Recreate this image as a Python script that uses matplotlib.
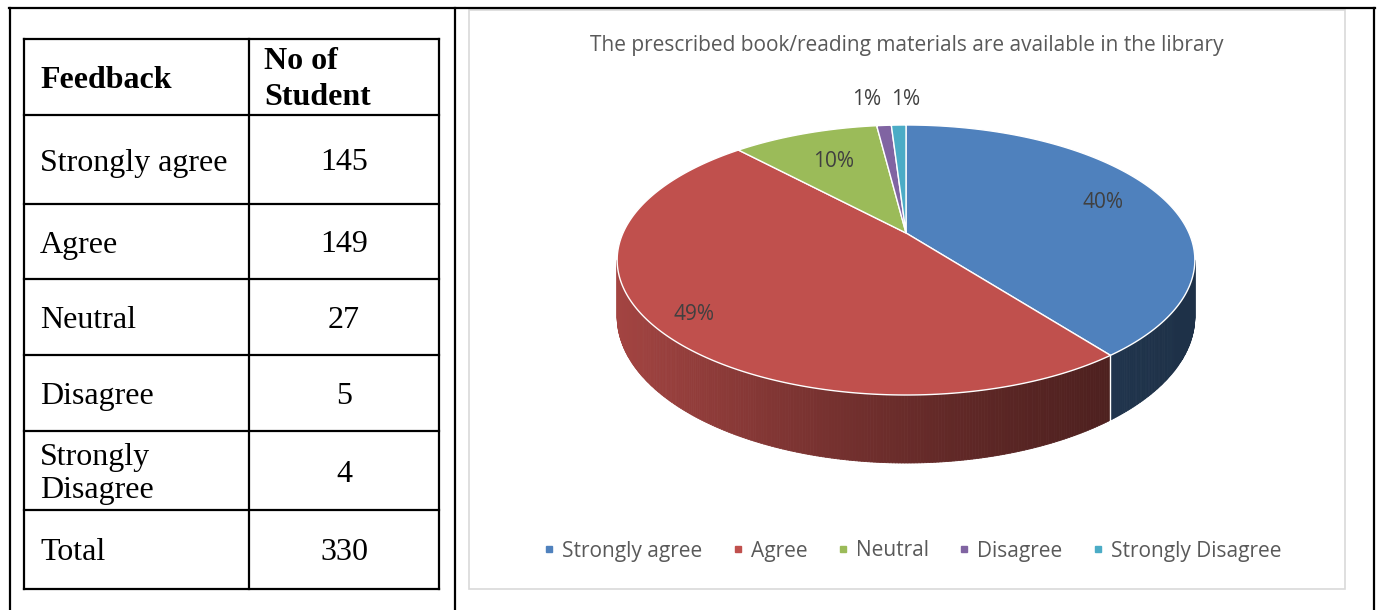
import numpy as np
import matplotlib.pyplot as plt
from matplotlib.collections import PolyCollection
from matplotlib.patches import Polygon, Rectangle
from matplotlib.lines import Line2D
import matplotlib.colors as mcolors

# table data
header = ['Feedback', 'No of\nStudent']
feedback = ['Strongly agree', 'Agree', 'Neutral', 'Disagree', 'Strongly\nDisagree']
students = [145, 149, 27, 5, 4]
total = 330

# chart data (percentages as printed on the pie)
pie_labels = ['Strongly agree', 'Agree', 'Neutral', 'Disagree', 'Strongly Disagree']
pie_pct = [40, 49, 10, 1, 1]
colors = ['#4F81BD', '#C0504D', '#9BBB59', '#8064A2', '#4BACC6']
title = 'The prescribed book/reading materials are available in the library'

fig = plt.figure(figsize=(13.81, 6.10), dpi=100)
ax = fig.add_axes([0, 0, 1, 1])
ax.set_xlim(0, 1381)
ax.set_ylim(610, 0)
ax.axis('off')

# --- outer layout table ---
ax.plot([9, 1375], [8, 8], color='black', lw=1.6)
for x in (10, 455, 1374):
    ax.plot([x, x], [8, 610], color='black', lw=1.6)

# --- inner data table ---
row_edges = [39, 115, 204, 279, 355, 431, 510, 589]
col_edges = [24, 249, 439]
for y in row_edges:
    ax.plot([col_edges[0], col_edges[-1]], [y, y], color='black', lw=1.6)
for x in col_edges:
    ax.plot([x, x], [row_edges[0], row_edges[-1]], color='black', lw=1.6)

serif = 'Liberation Serif'
fs = 23
rows = [tuple(header)] + list(zip(feedback, students)) + [('Total', total)]
for i, (name, val) in enumerate(rows):
    yc = (row_edges[i] + row_edges[i + 1]) / 2 + 3.5
    if i == 0:
        ax.text(40, yc, name, ha='left', va='center', fontsize=fs,
                family=serif, weight='bold')
        ax.text(264, yc - 1, val, ha='left', va='center', fontsize=fs,
                family=serif, weight='bold', linespacing=1.35)
    else:
        ax.text(40, yc, name, ha='left', va='center', fontsize=fs,
                family=serif, linespacing=1.22)
        ax.text((col_edges[1] + col_edges[2]) / 2, yc, str(val), ha='center',
                va='center', fontsize=fs, family=serif)

# --- chart area ---
ax.add_patch(Rectangle((469, 10), 876, 579, fill=False, edgecolor='#d9d9d9', lw=1.2))
sans = 'Open Sans'
ax.text(907, 45, title, ha='center', va='center', fontsize=15, family=sans, color='#595959')

# 3D pie with a little perspective: centre of disc projects to (cx, cy)
cx, cy = 906, 233
A, B, c, H = 283, 129.6, 0.2, 54.4
fracs = np.array(pie_pct) / sum(pie_pct)
bounds = np.concatenate([[0], np.cumsum(fracs)]) * 360


def pt(theta, r=1.0, h=0.0):
    t = np.radians(theta)
    den = 1 + c * r * np.cos(t)
    return cx + A * r * np.sin(t) / den, cy - (B * r * np.cos(t) - h) / den


def shade(u):
    return 0.38 + 0.47 * ((1 - u) / 2) ** 1.5


# side walls (visible front part)
vis_lo = np.degrees(np.arccos(-c))
vis_hi = 360 - vis_lo
quads, qcols = [], []
for i in range(len(pie_pct)):
    lo, hi = max(bounds[i], vis_lo), min(bounds[i + 1], vis_hi)
    if lo >= hi:
        continue
    th = np.linspace(lo, hi, int(hi - lo) * 2 + 2)
    base = np.array(mcolors.to_rgb(colors[i]))
    for t0, t1 in zip(th[:-1], th[1:]):
        x0, y0 = pt(t0)
        x1, y1 = pt(t1)
        x0b, y0b = pt(t0, h=H)
        x1b, y1b = pt(t1, h=H)
        quads.append([(x0, y0), (x1, y1), (x1b, y1b), (x0b, y0b)])
        u = (0.5 * (x0 + x1) - cx) / 289
        qcols.append(np.clip(base * shade(u), 0, 1))
ax.add_collection(PolyCollection(quads, facecolors=qcols, edgecolors=qcols, linewidths=0.6))

for b in bounds:
    if vis_lo < b < vis_hi:
        x, y = pt(b)
        xb, yb = pt(b, h=H)
        ax.plot([x, xb], [y, yb], color='white', lw=1)

# top face
for i in range(len(pie_pct)):
    th = np.linspace(bounds[i], bounds[i + 1], 200)
    xs, ys = pt(th)
    poly = np.column_stack([np.r_[cx, xs], np.r_[cy, ys]])
    ax.add_patch(Polygon(poly, closed=True, facecolor=colors[i], edgecolor='white', lw=1))

# data labels
r_fac = [0.77, 0.87, 0.68, 1.3, 1.3]
dx = [0, 0, 0, -12, 9]
for i, p in enumerate(pie_pct):
    mid = (bounds[i] + bounds[i + 1]) / 2
    x, y = pt(mid, r_fac[i])
    ax.text(x + dx[i], y, f'{p}%', ha='center', va='center', fontsize=15,
            family=sans, color='#404040')

# legend
handles = [Line2D([], [], marker='s', ls='none', color=col, markersize=5) for col in colors]
ax.legend(handles, pie_labels, loc='center', bbox_to_anchor=(912 / 1381, 1 - 551 / 610),
          bbox_transform=fig.transFigure, ncol=5, frameon=False,
          prop={'family': sans, 'size': 15}, labelcolor='#595959',
          handlelength=0.6, handletextpad=0.32, columnspacing=1.4)

fig.savefig('out.png', dpi=100)
